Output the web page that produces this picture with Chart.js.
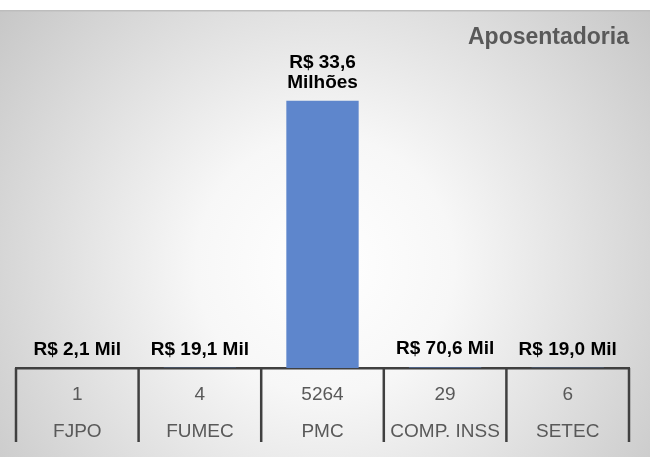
<!DOCTYPE html>
<html>
<head>
<meta charset="utf-8">
<script src="https://cdn.jsdelivr.net/npm/chart.js@4"></script>
<style>
  html, body { margin: 0; padding: 0; background: #ffffff; }
  #wrap { position: relative; width: 650px; height: 457px; }
</style>
</head>
<body>
<div id="wrap"><canvas id="c"></canvas></div>
<script>
const categories = ['FJPO', 'FUMEC', 'PMC', 'COMP. INSS', 'SETEC'];
const counts = [1, 4, 5264, 29, 6];
const values = [2100, 19100, 33600000, 70600, 19000];
const chartTitle = 'Aposentadoria';

const FONT = "'Liberation Sans', Arial, sans-serif";

function formatValue(v) {
  if (v >= 1e6) {
    return ['R$ ' + (v / 1e6).toFixed(1).replace('.', ','), 'Milhões'];
  }
  return ['R$ ' + (v / 1e3).toFixed(1).replace('.', ',') + ' Mil'];
}

const backgroundPlugin = {
  id: 'bg',
  beforeDraw(chart) {
    const ctx = chart.ctx;
    const w = chart.width, h = chart.height;
    ctx.save();
    ctx.fillStyle = '#ffffff';
    ctx.fillRect(0, 0, w, h);
    const g = ctx.createRadialGradient(325, 265, 0, 325, 265, 430);
    g.addColorStop(0, '#ffffff');
    g.addColorStop(0.3, '#f7f7f7');
    g.addColorStop(1, '#c4c4c4');
    ctx.fillStyle = g;
    ctx.fillRect(0, 10, w, h - 10);
    ctx.fillStyle = '#bdbdbd';
    ctx.fillRect(0, 10, w, 1.5);
    ctx.restore();
  }
};

// vertical separators of the data table, placed from the x scale
const tablePlugin = {
  id: 'tableLines',
  afterDraw(chart) {
    const xs = chart.scales.x;
    const ctx = chart.ctx;
    const n = categories.length;
    const step = xs.getPixelForValue(1) - xs.getPixelForValue(0);
    const x0 = xs.getPixelForValue(0);
    const top = xs.top;
    ctx.save();
    ctx.strokeStyle = '#404040';
    ctx.lineWidth = 2.5;
    for (let i = 0; i <= n; i++) {
      const x = x0 + (i - 0.5) * step;
      ctx.beginPath();
      ctx.moveTo(x, top);
      ctx.lineTo(x, top + 74);
      ctx.stroke();
    }
    ctx.restore();
  }
};

const valueLabelPlugin = {
  id: 'valueLabels',
  afterDatasetsDraw(chart) {
    const ctx = chart.ctx;
    const meta = chart.getDatasetMeta(0);
    ctx.save();
    ctx.fillStyle = '#000000';
    ctx.font = 'bold 19px ' + FONT;
    ctx.textAlign = 'center';
    ctx.textBaseline = 'alphabetic';
    meta.data.forEach((bar, i) => {
      const lines = formatValue(values[i]);
      const lh = 20;
      let y = bar.y - 13 - (lines.length - 1) * lh;
      lines.forEach(t => { ctx.fillText(t, bar.x, y); y += lh; });
    });
    ctx.restore();
  }
};

new Chart(document.getElementById('c'), {
  type: 'bar',
  data: {
    labels: categories.map((c, i) => [String(counts[i]), c]),
    datasets: [{
      data: values,
      backgroundColor: '#5e86cc',
      barPercentage: 0.59,
      categoryPercentage: 1
    }]
  },
  options: {
    responsive: true,
    maintainAspectRatio: false,
    animation: false,
    layout: { padding: { top: 10, left: 16, right: 21, bottom: 0 } },
    plugins: {
      legend: { display: false },
      tooltip: { enabled: false },
      title: {
        display: true,
        text: chartTitle,
        align: 'end',
        color: '#595959',
        font: { family: FONT, size: 23, weight: 'bold', lineHeight: 1.2 },
        padding: { top: 14, bottom: 49 }
      }
    },
    scales: {
      y: { display: false, min: 0, max: Math.max(...values) },
      x: {
        offset: true,
        afterFit(scale) { scale.height = 89; },
        border: { display: true, color: '#404040', width: 2.5 },
        grid: {
          offset: true,
          drawOnChartArea: false,
          drawTicks: false
        },
        ticks: {
          autoSkip: false,
          maxRotation: 0,
          minRotation: 0,
          padding: 8.5,
          color: '#595959',
          font: { family: FONT, size: 19, lineHeight: '37px' }
        }
      }
    }
  },
  plugins: [backgroundPlugin, tablePlugin, valueLabelPlugin]
});
</script>
</body>
</html>
